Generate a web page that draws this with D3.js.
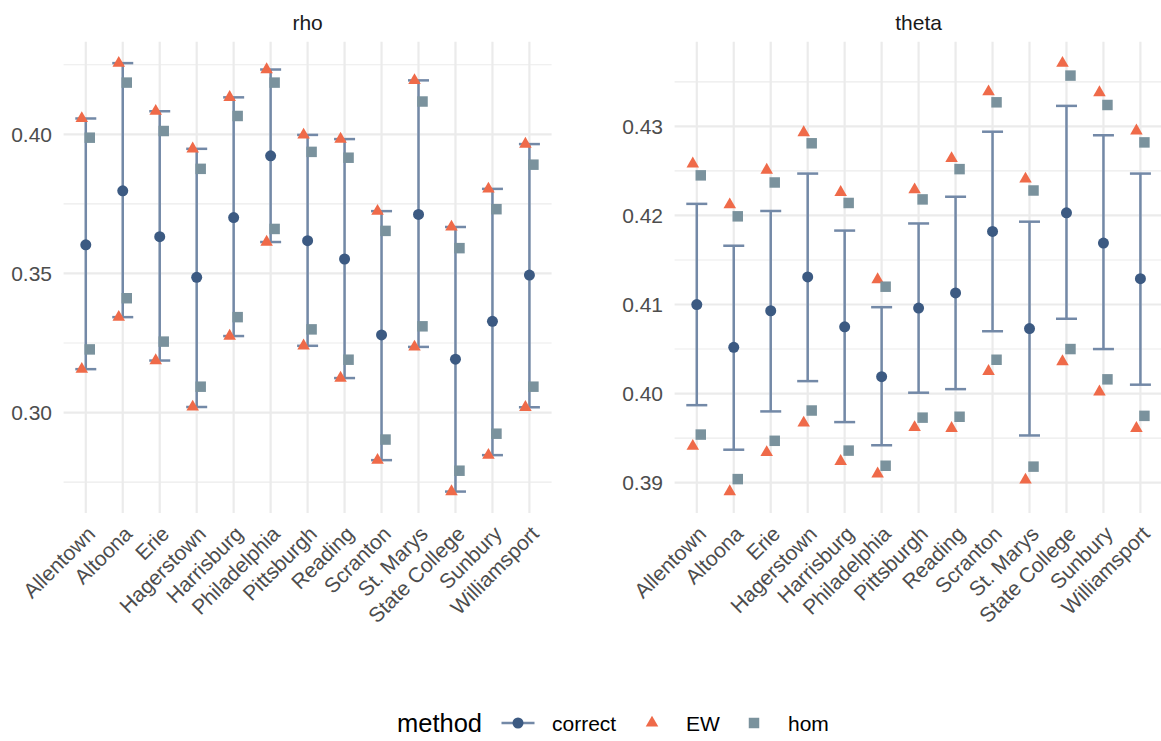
<!DOCTYPE html>
<html>
<head>
<meta charset="utf-8">
<script src="https://cdn.jsdelivr.net/npm/d3@7"></script>
<style>
  html, body { margin: 0; padding: 0; background: #ffffff; }
  svg { display: block; font-family: "Liberation Sans", Arial, Helvetica, sans-serif; }
</style>
</head>
<body>
<svg id="chart" width="1161" height="741"></svg>
<script>
// ---------------- data ----------------
const cities = ["Allentown", "Altoona", "Erie", "Hagerstown", "Harrisburg", "Philadelphia",
  "Pittsburgh", "Reading", "Scranton", "St. Marys", "State College", "Sunbury", "Williamsport"];

const methods = ["correct", "EW", "hom"];
const params = ["rho", "theta"];

// rho
const rhoEst     = [0.3603, 0.3797, 0.3632, 0.3486, 0.3701, 0.3923, 0.3618, 0.3552, 0.3279, 0.3712, 0.3192, 0.3328, 0.3494];
const rhoLow     = [0.3156, 0.3343, 0.3187, 0.3020, 0.3275, 0.3613, 0.3240, 0.3124, 0.2829, 0.3236, 0.2716, 0.2847, 0.3019];
const rhoHigh    = [0.4057, 0.4256, 0.4083, 0.3948, 0.4133, 0.4233, 0.3998, 0.3983, 0.3724, 0.4194, 0.3667, 0.3804, 0.3965];
const rhoEWLow   = [0.3156, 0.3343, 0.3187, 0.3020, 0.3275, 0.3613, 0.3240, 0.3124, 0.2829, 0.3236, 0.2716, 0.2847, 0.3019];
const rhoEWHigh  = [0.4057, 0.4256, 0.4083, 0.3948, 0.4133, 0.4233, 0.3998, 0.3983, 0.3724, 0.4194, 0.3667, 0.3804, 0.3965];
const rhoHomLow  = [0.3227, 0.3411, 0.3255, 0.3093, 0.3343, 0.3660, 0.3299, 0.3190, 0.2903, 0.3310, 0.2791, 0.2924, 0.3093];
const rhoHomHigh = [0.3988, 0.4186, 0.4012, 0.3876, 0.4066, 0.4186, 0.3937, 0.3916, 0.3653, 0.4118, 0.3591, 0.3731, 0.3891];

// theta
const thetaEst     = [0.4100, 0.4052, 0.4093, 0.4131, 0.4075, 0.4019, 0.4096, 0.4113, 0.4182, 0.4073, 0.4203, 0.4169, 0.4129];
const thetaLow     = [0.3987, 0.3937, 0.3980, 0.4014, 0.3968, 0.3942, 0.4001, 0.4005, 0.4070, 0.3953, 0.4084, 0.4050, 0.4010];
const thetaHigh    = [0.4213, 0.4166, 0.4205, 0.4247, 0.4183, 0.4097, 0.4191, 0.4221, 0.4294, 0.4193, 0.4323, 0.4290, 0.4247];
const thetaEWLow   = [0.3941, 0.3890, 0.3934, 0.3967, 0.3924, 0.3910, 0.3962, 0.3961, 0.4025, 0.3903, 0.4036, 0.4002, 0.3961];
const thetaEWHigh  = [0.4258, 0.4212, 0.4251, 0.4293, 0.4226, 0.4128, 0.4229, 0.4264, 0.4339, 0.4241, 0.4371, 0.4338, 0.4295];
const thetaHomLow  = [0.3954, 0.3904, 0.3947, 0.3981, 0.3936, 0.3919, 0.3973, 0.3974, 0.4038, 0.3918, 0.4050, 0.4016, 0.3975];
const thetaHomHigh = [0.4245, 0.4199, 0.4237, 0.4281, 0.4214, 0.4120, 0.4218, 0.4252, 0.4327, 0.4228, 0.4357, 0.4324, 0.4282];

// tick labels
const rhoTicks   = [0.30, 0.35, 0.40];
const thetaTicks = [0.39, 0.40, 0.41, 0.42, 0.43];

// ---------------- layout / style ----------------
const colCorrect = "#3c5a82";
const colBar = "#7389a7";
const colEW = "#ef6a49";
const colHom = "#7a929d";
const gridCol = "#ebebeb";
const fontSize = 21;

const panelTop = 41.7, panelBottom = 513;
const panelDefs = [
  { name: params[0], x0: 63.6, x1: 551.6, est: rhoEst, lo: rhoLow, hi: rhoHigh,
    ewLo: rhoEWLow, ewHi: rhoEWHigh, homLo: rhoHomLow, homHi: rhoHomHigh, ticks: rhoTicks },
  { name: params[1], x0: 674.6, x1: 1162.6, est: thetaEst, lo: thetaLow, hi: thetaHigh,
    ewLo: thetaEWLow, ewHi: thetaEWHigh, homLo: thetaHomLow, homHi: thetaHomHigh, ticks: thetaTicks }
];

const svg = d3.select("#chart");
const fmt = d3.format(".2f");
const triPath = d3.symbol().type(d3.symbolTriangle).size(68)();
const sqPath = d3.symbol().type(d3.symbolSquare).size(110)();
const dodge = 4;

panelDefs.forEach(p => {
  const g = svg.append("g");
  const x = d3.scalePoint().domain(cities).range([p.x0, p.x1]).padding(0.6);
  const all = [].concat(p.est, p.lo, p.hi, p.ewLo, p.ewHi, p.homLo, p.homHi);
  const [mn, mx] = d3.extent(all);
  const r = mx - mn;
  const y = d3.scaleLinear().domain([mn - 0.05 * r, mx + 0.05 * r]).range([panelBottom, panelTop]);

  // minor gridlines (midpoints between major ticks, extended)
  const step = p.ticks[1] - p.ticks[0];
  const minor = [];
  for (let i = -1; i < p.ticks.length; i++) {
    const v = p.ticks[0] + (i + 0.5) * step;
    if (v >= y.domain()[0] && v <= y.domain()[1]) minor.push(v);
  }
  g.selectAll("line.minor").data(minor).join("line")
    .attr("x1", p.x0).attr("x2", p.x1)
    .attr("y1", d => y(d)).attr("y2", d => y(d))
    .attr("stroke", gridCol).attr("stroke-width", 1.1);
  g.selectAll("line.major").data(p.ticks).join("line")
    .attr("x1", p.x0).attr("x2", p.x1)
    .attr("y1", d => y(d)).attr("y2", d => y(d))
    .attr("stroke", gridCol).attr("stroke-width", 2.2);
  g.selectAll("line.vgrid").data(cities).join("line")
    .attr("x1", d => x(d)).attr("x2", d => x(d))
    .attr("y1", panelTop).attr("y2", panelBottom)
    .attr("stroke", gridCol).attr("stroke-width", 2.2);

  // y axis labels
  g.selectAll("text.ytick").data(p.ticks).join("text")
    .attr("x", p.x0 - 11.6).attr("y", d => y(d)).attr("dy", "0.36em")
    .attr("text-anchor", "end").attr("font-size", fontSize).attr("fill", "#4d4d4d")
    .text(d => fmt(d));

  // x axis labels
  g.selectAll("text.xtick").data(cities).join("text")
    .attr("transform", d => `translate(${x(d)},${panelBottom + 11.5}) rotate(-45)`)
    .attr("dy", "0.72em")
    .attr("text-anchor", "end").attr("font-size", fontSize).attr("fill", "#4d4d4d")
    .text(d => d);

  // strip title
  g.append("text")
    .attr("x", (p.x0 + p.x1) / 2).attr("y", 29.5)
    .attr("text-anchor", "middle").attr("font-size", fontSize).attr("fill", "#1a1a1a")
    .text(p.name);

  // error bars (correct)
  const idx = d3.range(cities.length);
  g.selectAll("line.bar").data(idx).join("line")
    .attr("x1", i => x(cities[i])).attr("x2", i => x(cities[i]))
    .attr("y1", i => y(p.lo[i])).attr("y2", i => y(p.hi[i]))
    .attr("stroke", colBar).attr("stroke-width", 2.5);
  ["lo", "hi"].forEach(k => {
    g.selectAll("line.cap" + k).data(idx).join("line")
      .attr("x1", i => x(cities[i]) - 10.5).attr("x2", i => x(cities[i]) + 10.5)
      .attr("y1", i => y(p[k][i])).attr("y2", i => y(p[k][i]))
      .attr("stroke", colBar).attr("stroke-width", 2.5);
  });

  // EW triangles
  ["ewLo", "ewHi"].forEach(k => {
    g.selectAll("path.ew" + k).data(idx).join("path")
      .attr("d", triPath)
      .attr("transform", i => `translate(${x(cities[i]) - dodge},${y(p[k][i])})`)
      .attr("fill", colEW);
  });
  // hom squares
  ["homLo", "homHi"].forEach(k => {
    g.selectAll("path.hom" + k).data(idx).join("path")
      .attr("d", sqPath)
      .attr("transform", i => `translate(${x(cities[i]) + dodge},${y(p[k][i])})`)
      .attr("fill", colHom);
  });
  // correct points
  g.selectAll("circle.est").data(idx).join("circle")
    .attr("cx", i => x(cities[i])).attr("cy", i => y(p.est[i])).attr("r", 5.5)
    .attr("fill", colCorrect);
});

// ---------------- legend ----------------
const lg = svg.append("g");
const ly = 723;
lg.append("text").attr("x", 397).attr("y", ly).attr("dy", "0.36em")
  .attr("font-size", 25.5).attr("fill", "#000").text("method");
const keyX = [518, 652, 754];
const labX = [552, 686, 788];
lg.append("line").attr("x1", keyX[0] - 16.5).attr("x2", keyX[0] + 16.5)
  .attr("y1", ly).attr("y2", ly).attr("stroke", colBar).attr("stroke-width", 2.5);
lg.append("circle").attr("cx", keyX[0]).attr("cy", ly).attr("r", 5.5).attr("fill", colCorrect);
lg.append("path").attr("d", triPath).attr("transform", `translate(${keyX[1]},${ly})`).attr("fill", colEW);
lg.append("path").attr("d", sqPath).attr("transform", `translate(${keyX[2]},${ly})`).attr("fill", colHom);
lg.selectAll("text.lab").data(methods).join("text")
  .attr("x", (d, i) => labX[i]).attr("y", ly).attr("dy", "0.36em")
  .attr("font-size", fontSize).attr("fill", "#000").text(d => d);
</script>
</body>
</html>
